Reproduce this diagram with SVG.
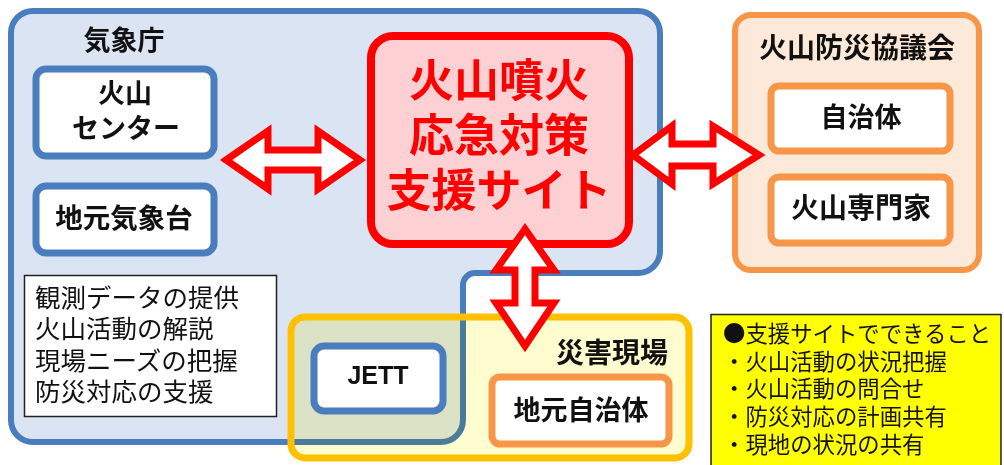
<svg xmlns="http://www.w3.org/2000/svg" width="1004" height="465" viewBox="0 0 1004 465">
<style>
.jb{font-family:"Noto Sans CJK JP","Noto Sans",sans-serif;font-weight:700;fill:#111;}
.jr{font-family:"Noto Sans CJK JP","Noto Sans",sans-serif;font-weight:400;fill:#111;}
.bluebox{fill:#fff;stroke:#4a7dbd;stroke-width:7;}
.orgbox{fill:#fff;stroke:#f79646;stroke-width:7;}
.arrow{fill:#fff;stroke:#ff0000;stroke-width:7;stroke-linejoin:miter;stroke-miterlimit:10;}
</style>
<rect width="1004" height="465" fill="#fff"/>

<g id="jma">
  <path d="M33,11 H638 A22,22 0 0 1 660,33 V251 A22,22 0 0 1 638,273 H475 A12,12 0 0 0 463,285 V420 A22,22 0 0 1 441,442 H33 A22,22 0 0 1 11,420 V33 A22,22 0 0 1 33,11 Z" fill="#dbe4f2" stroke="#4a7dbd" stroke-width="6"/>
  <text class="jb" x="124" y="50" font-size="27" text-anchor="middle">気象庁</text>
</g>

<g id="volcano-center">
  <rect class="bluebox" x="36" y="69" width="178" height="87" rx="10"/>
  <text class="jb" x="125" y="103" font-size="27" text-anchor="middle">火山</text>
  <text class="jb" x="126" y="138" font-size="27" text-anchor="middle">センター</text>
</g>

<g id="local-observatory">
  <rect class="bluebox" x="36" y="186" width="178" height="67" rx="10"/>
  <text class="jb" x="124" y="228" font-size="27.5" text-anchor="middle">地元気象台</text>
</g>

<g id="jma-roles">
  <rect x="24.5" y="275.5" width="252" height="141" fill="#fff" stroke="#222" stroke-width="1.5"/>
  <text class="jr" x="35" y="306.5" font-size="25.5">観測データの提供</text>
  <text class="jr" x="35" y="338" font-size="25.5">火山活動の解説</text>
  <text class="jr" x="35" y="369.5" font-size="25.5">現場ニーズの把握</text>
  <text class="jr" x="35" y="401" font-size="25.5">防災対応の支援</text>
</g>

<g id="support-site">
  <rect x="371" y="36" width="258" height="208" rx="22" fill="#fdd1d3" stroke="#ff0000" stroke-width="8"/>
  <text class="jb" x="499" y="97" font-size="45" text-anchor="middle" style="fill:#ff0000">火山噴火</text>
  <text class="jb" x="499" y="152" font-size="45" text-anchor="middle" style="fill:#ff0000">応急対策</text>
  <text class="jb" x="499" y="207" font-size="45" text-anchor="middle" style="fill:#ff0000">支援サイト</text>
</g>

<g id="council">
  <rect x="735" y="15" width="244" height="255" rx="16" fill="#fde9d9" stroke="#f79646" stroke-width="6"/>
  <text class="jb" x="857" y="57.5" font-size="28" text-anchor="middle">火山防災協議会</text>
</g>

<g id="municipality">
  <rect class="orgbox" x="771" y="86" width="179" height="65" rx="8"/>
  <text class="jb" x="861" y="127" font-size="27" text-anchor="middle">自治体</text>
</g>

<g id="volcano-experts">
  <rect class="orgbox" x="771" y="177" width="179" height="66" rx="8"/>
  <text class="jb" x="861" y="217.5" font-size="28" text-anchor="middle">火山専門家</text>
</g>

<g id="disaster-site">
  <rect x="291" y="317" width="398" height="141" rx="14" fill="#fffdd0" style="mix-blend-mode:multiply"/>
  <rect x="291" y="317" width="398" height="141" rx="14" fill="none" stroke="#ffc000" stroke-width="7"/>
  <text class="jb" x="612" y="362.5" font-size="28" text-anchor="middle">災害現場</text>
</g>

<g id="jett">
  <rect class="bluebox" x="314" y="346" width="129" height="65" rx="10"/>
  <text x="378" y="384" font-size="25" text-anchor="middle" font-family="'Liberation Sans',Arial,sans-serif" font-weight="700" fill="#111">JETT</text>
</g>

<g id="local-municipality">
  <rect class="orgbox" x="492" y="377" width="177" height="67" rx="8"/>
  <text class="jb" x="581" y="420" font-size="27" text-anchor="middle">地元自治体</text>
</g>

<g id="site-functions">
  <rect x="711" y="314.5" width="290" height="170" fill="#ffff00" stroke="#222" stroke-width="1.5"/>
  <text class="jr" x="723" y="341.5" font-size="22.4">●支援サイトでできること</text>
  <text class="jr" x="723" y="369.5" font-size="22.4">・火山活動の状況把握</text>
  <text class="jr" x="723" y="396.5" font-size="22.4">・火山活動の問合せ</text>
  <text class="jr" x="723" y="424.5" font-size="22.4">・防災対応の計画共有</text>
  <text class="jr" x="723" y="452.5" font-size="22.4">・現地の状況の共有</text>
</g>

<g id="connectors">
  <path class="arrow" d="M226,160 L268,131 L268,150 L318,150 L318,131 L360,160 L318,189 L318,170 L268,170 L268,189 Z"/>
  <path class="arrow" d="M633,155 L672,126 L672,144 L713,144 L713,126 L759,155 L713,184 L713,166 L672,166 L672,184 Z"/>
  <path class="arrow" d="M525,229 L554,270 L535,270 L535,303 L554,303 L525,346 L496,303 L515,303 L515,270 L496,270 Z"/>
</g>
</svg>
